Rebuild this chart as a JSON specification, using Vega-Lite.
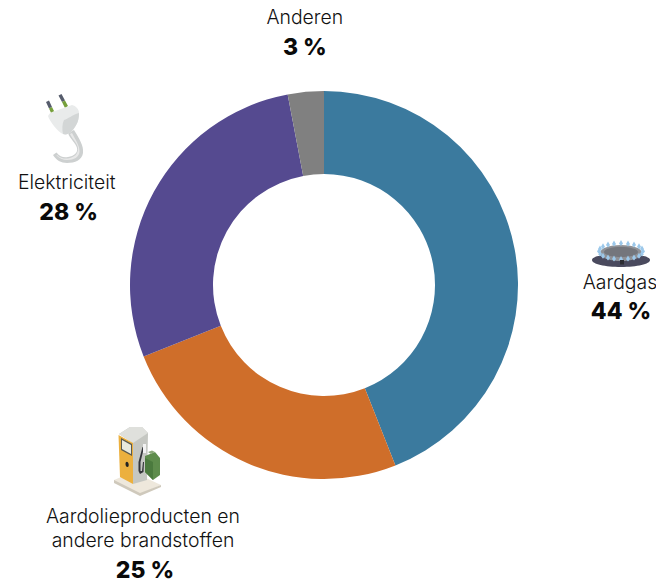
{
  "$schema": "https://vega.github.io/schema/vega-lite/v6.json",
  "width": 648,
  "height": 570,
  "padding": {"left": 0, "top": 0, "right": 8, "bottom": 13},
  "autosize": "none",
  "background": "white",
  "config": {"view": {"stroke": null}},
  "data": {"name": "aandeel", "values": [
    {"drager": "Aardgas", "label": "Aardgas", "pct": 44, "aandeel": "44 %", "volgorde": 1},
    {"drager": "Aardolieproducten", "label": "Aardolieproducten en\nandere brandstoffen", "pct": 25, "aandeel": "25 %", "volgorde": 2},
    {"drager": "Elektriciteit", "label": "Elektriciteit", "pct": 28, "aandeel": "28 %", "volgorde": 3},
    {"drager": "Anderen", "label": "Anderen", "pct": 3, "aandeel": "3 %", "volgorde": 4}
  ]},
  "transform": [
    {"stack": "pct", "groupby": [], "sort": [{"field": "volgorde", "order": "ascending"}], "as": ["t0", "t1"]}
  ],
  "encoding": {
    "theta": {"field": "t0", "type": "quantitative", "scale": {"domain": [0, 100]}},
    "theta2": {"field": "t1"}
  },
  "layer": [
    {
      "mark": {"type": "arc", "outerRadius": 194, "innerRadius": 111},
      "encoding": {
        "color": {"field": "drager", "type": "nominal", "legend": null, "scale": {
          "domain": ["Aardgas", "Aardolieproducten", "Elektriciteit", "Anderen"],
          "range": ["#3b7a9e", "#cf6e2a", "#554a90", "#808080"]
        }}
      }
    },
    {
      "transform": [{"filter": "datum.drager === 'Aardgas'"}],
      "mark": {"type": "text", "font": "Inter", "fontSize": 19.4, "fontWeight": 300, "color": "#111111", "radius": 300, "dx": 296, "dy": 298},
      "encoding": {"text": {"field": "label"}}
    },
    {
      "transform": [{"filter": "datum.drager === 'Aardgas'"}],
      "mark": {"type": "text", "font": "Inter", "fontSize": 23, "fontWeight": 800, "color": "#0a0a0a", "radius": 300, "dx": 297, "dy": 327},
      "encoding": {"text": {"field": "aandeel"}}
    },
    {
      "transform": [{"filter": "datum.drager === 'Aardolieproducten'"}],
      "mark": {"type": "text", "font": "Inter", "fontSize": 19.4, "fontWeight": 300, "color": "#111111", "radius": 250, "dx": -273, "dy": 0, "lineBreak": "\n", "lineHeight": 24},
      "encoding": {"text": {"field": "label"}}
    },
    {
      "transform": [{"filter": "datum.drager === 'Aardolieproducten'"}],
      "mark": {"type": "text", "font": "Inter", "fontSize": 23, "fontWeight": 800, "color": "#0a0a0a", "radius": 250, "dx": -271, "dy": 54},
      "encoding": {"text": {"field": "aandeel"}}
    },
    {
      "transform": [{"filter": "datum.drager === 'Elektriciteit'"}],
      "mark": {"type": "text", "font": "Inter", "fontSize": 19.4, "fontWeight": 300, "color": "#111111", "radius": 280, "dx": 3, "dy": -205},
      "encoding": {"text": {"field": "label"}}
    },
    {
      "transform": [{"filter": "datum.drager === 'Elektriciteit'"}],
      "mark": {"type": "text", "font": "Inter", "fontSize": 23, "fontWeight": 800, "color": "#0a0a0a", "radius": 280, "dx": 5, "dy": -175},
      "encoding": {"text": {"field": "aandeel"}}
    },
    {
      "transform": [{"filter": "datum.drager === 'Anderen'"}],
      "mark": {"type": "text", "font": "Inter", "fontSize": 19.4, "fontWeight": 300, "color": "#111111", "radius": 268, "dx": 31, "dy": -4},
      "encoding": {"text": {"field": "label"}}
    },
    {
      "transform": [{"filter": "datum.drager === 'Anderen'"}],
      "mark": {"type": "text", "font": "Inter", "fontSize": 23, "fontWeight": 800, "color": "#0a0a0a", "radius": 268, "dx": 31, "dy": 26},
      "encoding": {"text": {"field": "aandeel"}}
    },
    {
      "data": {"values": [
        {"part": "burner base"}, {"part": "burner ring"}, {"part": "burner top"}, {"part": "burner flames"}, {"part": "burner knob"},
        {"part": "plug prong tips"}, {"part": "plug prong roots"}, {"part": "plug cord"}, {"part": "plug cord light"}, {"part": "plug body"}, {"part": "plug shade"},
        {"part": "pump plate"}, {"part": "pump plate edge"}, {"part": "pump side"}, {"part": "pump top"}, {"part": "pump face"}, {"part": "pump screen"}, {"part": "pump display"}, {"part": "pump dot"}, {"part": "pump hose"}, {"part": "pump nozzle"}, {"part": "can side"}, {"part": "can front"}, {"part": "can cap"}
      ]},
      "mark": {"type": "point", "filled": true, "opacity": 1, "strokeWidth": 0, "size": 4, "xOffset": -324, "yOffset": -285},
      "encoding": {
        "theta": null,
        "theta2": null,
        "shape": {"field": "part", "type": "nominal", "legend": null, "scale": {
          "domain": ["burner base", "burner ring", "burner top", "burner flames", "burner knob", "plug prong tips", "plug prong roots", "plug cord", "plug cord light", "plug body", "plug shade", "pump plate", "pump plate edge", "pump side", "pump top", "pump face", "pump screen", "pump display", "pump dot", "pump hose", "pump nozzle", "can side", "can front", "can cap"],
          "range": [
            "M592 260C592 256 605 254 621 254C637 254 650 256 650 260C650 264 637 267 621 267C605 267 592 264 592 260Z",
            "M600 253C600 248 610 245 621 245C632 245 642 248 642 253C642 258 632 261 621 261C610 261 600 258 600 253Z",
            "M604 252C604 249 612 247 621 247C630 247 638 249 638 252C638 255 630 257 621 257C612 257 604 255 604 252Z",
            "M643 248l2 3.5-2 2.500-2-2.500zM642 250.500l2 3.500-2 2.500-2-2.500zM639 252.700l2 3.500-2 2.500-2-2.500zM634 254.500l2 3.500-2 2.500-2-2.500zM628 255.600l2 3.500-2 2.500-2-2.500zM621 256l2 3.500-2 2.500-2-2.500zM614 255.600l2 3.500-2 2.500-2-2.500zM608 254.500l2 3.500-2 2.500-2-2.500zM603 252.700l2 3.500-2 2.500-2-2.500zM600 250.500l2 3.500-2 2.500-2-2.500zM599 248l2 3.500-2 2.500-2-2.500zM600 245.500l2 3.500-2 2.500-2-2.500zM603 243.300l2 3.500-2 2.500-2-2.500zM608 241.500l2 3.500-2 2.500-2-2.500zM614 240.400l2 3.500-2 2.500-2-2.500zM621 240l2 3.500-2 2.500-2-2.500zM628 240.400l2 3.500-2 2.500-2-2.500zM634 241.500l2 3.500-2 2.500-2-2.500zM639 243.300l2 3.500-2 2.500-2-2.500zM642 245.500l2 3.500-2 2.500-2-2.500z",
            "M620 260h4v4.500h-4Z",
            "M46 102L49 100.500L52 107L49 108.500ZM58.500 95.500L61.500 94L65 100.500L62 102Z",
            "M49 108.500L52 107L55 113L52 115ZM62 102L65 100.500L68 106L65 108Z",
            "M68 133L74 130C79 138 84 146 83 153C82 160 75 163 67 163C61 163 56 160 53 155L56.500 152.500C60 157 64 158 68 157C74 156 78 153 77 148C76 143 70 139 68 133Z",
            "M70 134L72 133C75 139 80 146 79.500 152C79 157 74 160 67 160C63 160 59 158 56.500 155.500L57 155C60 158 64 159 68 158.500C74 157.500 78.500 154 78 148C77.500 143 72 139 70 134Z",
            "M48 116C50 112 54 111 58 110L72 105C76 106 79 109 79 113C79 119 78 124 72 131C69 134 66 135 63 134C58 132 50 122 48 116Z",
            "M64 120C68 119 72 115 79 113C79 119 78 124 72 131C69 134 66 135 63 134C62 130 62 124 64 120Z",
            "M114 480L133 472L161 485L140 494L114 482Z",
            "M114 480L114 483L140 496L161 487L161 485L140 493Z",
            "M119 434L130 427L142 427L148 433L147 480L133 484L133 443Z",
            "M119 434L130 427L142 427L148 433L133 443Z",
            "M118.500 435L133 443L133 484L120 477Z",
            "M121 438L132 444L132 456L121 450Z",
            "M122 440L131 445L131 454L122 449Z",
            "M125.500 464C125.500 462 127 461 128 462.500C129 464 129 467 127.500 467C126 467 125.500 465.500 125.500 464Z",
            "M142.500 447L144 447.500L140.500 462L140.500 471L142 471L143 462L144 462L143.500 472L140 474L138.500 471L138.500 462Z",
            "M143 444L146 444L146 453L143 453Z",
            "M145 456L155 452L160 458L160 475L153 480L145 472Z",
            "M145 458L153 462L153 480L145 472Z",
            "M148 452L152 450.500L155 452L151 454Z"
          ]
        }},
        "fill": {"field": "part", "type": "nominal", "legend": null, "scale": {
          "domain": ["burner base", "burner ring", "burner top", "burner flames", "burner knob", "plug prong tips", "plug prong roots", "plug cord", "plug cord light", "plug body", "plug shade", "pump plate", "pump plate edge", "pump side", "pump top", "pump face", "pump screen", "pump display", "pump dot", "pump hose", "pump nozzle", "can side", "can front", "can cap"],
          "range": ["#4a4a5e", "#8f9196", "#74767c", "#9cc8ea", "#2c2c32", "#565c6c", "#76a03c", "#cdd0d0", "#e8e8e8", "#e9ebeb", "#d3d6d6", "#eee8dc", "#cfc9bc", "#c5c7c2", "#dfe0dc", "#ecb03e", "#5a5a50", "#e9e9dc", "#222222", "#33353a", "#f2f2f2", "#5e8c4c", "#4b7a3e", "#8aa77a"]
        }}
      }
    }
  ]
}
